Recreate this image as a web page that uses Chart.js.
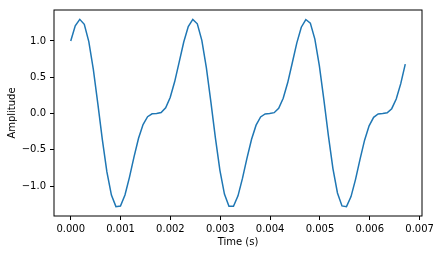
<!DOCTYPE html>
<html>
<head>
<meta charset="utf-8">
<script src="https://cdn.jsdelivr.net/npm/chart.js@4/dist/chart.umd.min.js"></script>
<style>
    html, body { margin: 0; padding: 0; background: #fff; }
    #waveChart { display: block; }
</style>
</head>
<body>
<canvas id="waveChart" width="442" height="255"></canvas>
<script>
// Samples (11025 Hz sample rate, 75 samples)
const sampleRate = 11025;
const amplitude = [
    1.000, 1.209, 1.298, 1.229, 0.991, 0.608, 0.132, -0.364, -0.804, -1.124,
    -1.283, -1.274, -1.122, -0.876, -0.596, -0.341, -0.151, -0.043, -0.004, 0.000,
    0.014, 0.079, 0.221, 0.441, 0.712, 0.986, 1.200, 1.297, 1.237, 1.009,
    0.633, 0.161, -0.336, -0.782, -1.110, -1.278, -1.279, -1.134, -0.891, -0.612,
    -0.354, -0.160, -0.047, -0.005, 0.000, 0.012, 0.073, 0.210, 0.427, 0.696,
    0.971, 1.190, 1.296, 1.246, 1.026, 0.657, 0.189, -0.309, -0.759, -1.095,
    -1.273, -1.283, -1.145, -0.907, -0.628, -0.367, -0.169, -0.052, -0.006, 0.000,
    0.010, 0.067, 0.201, 0.412, 0.680
];
const xTicks = [0, 0.001, 0.002, 0.003, 0.004, 0.005, 0.006, 0.007];
const yTicks = [-1.0, -0.5, 0.0, 0.5, 1.0];

const points = amplitude.map((v, i) => ({ x: i / sampleRate, y: v }));

// matplotlib-style 5% margins
const xMin = 0, xMax = (amplitude.length - 1) / sampleRate;
const yMin = Math.min(...amplitude), yMax = Math.max(...amplitude);
const xPad = (xMax - xMin) * 0.05, yPad = (yMax - yMin) * 0.05;

const fontSpec = { family: "'DejaVu Sans', sans-serif", size: 10 };
const minus = s => s.replace('-', '\u2212');

// full box around the plot area
const frame = {
    id: 'frame',
    afterDraw(chart) {
        const { ctx, chartArea: a } = chart;
        ctx.save();
        ctx.strokeStyle = '#000';
        ctx.lineWidth = 1;
        ctx.strokeRect(a.left, a.top, a.right - a.left, a.bottom - a.top);
        ctx.restore();
    }
};

new Chart(document.getElementById('waveChart'), {
    type: 'line',
    data: {
        datasets: [{
            data: points,
            borderColor: '#1f77b4',
            borderWidth: 1.5,
            pointRadius: 0,
            tension: 0,
            fill: false
        }]
    },
    options: {
        responsive: false,
        animation: false,
        layout: { padding: { left: 0, right: 20, top: 8, bottom: 0 } },
        plugins: {
            legend: { display: false },
            tooltip: { enabled: false }
        },
        scales: {
            x: {
                type: 'linear',
                min: xMin - xPad,
                max: xMax + xPad,
                afterBuildTicks: s => { s.ticks = xTicks.map(v => ({ value: v })); },
                afterFit: s => { s.height = 39; },
                grid: { drawOnChartArea: false, drawTicks: true, tickLength: 4, tickColor: '#000' },
                border: { display: false },
                ticks: {
                    color: '#000',
                    font: fontSpec,
                    padding: 3,
                    maxRotation: 0,
                    autoSkip: false,
                    callback: v => minus(v.toFixed(3))
                },
                title: {
                    display: true,
                    text: 'Time (s)',
                    color: '#000',
                    font: fontSpec,
                    padding: { top: 0, bottom: 7 }
                }
            },
            y: {
                min: yMin - yPad,
                max: yMax + yPad,
                afterBuildTicks: s => { s.ticks = yTicks.map(v => ({ value: v })); },
                afterFit: s => { s.width = 54; },
                grid: { drawOnChartArea: false, drawTicks: true, tickLength: 4, tickColor: '#000' },
                border: { display: false },
                ticks: {
                    color: '#000',
                    font: fontSpec,
                    padding: 4,
                    autoSkip: false,
                    callback: v => minus(v.toFixed(1))
                },
                title: {
                    display: true,
                    text: 'Amplitude',
                    color: '#000',
                    font: fontSpec,
                    padding: { top: 6, bottom: 0 }
                }
            }
        }
    },
    plugins: [frame]
});
</script>
</body>
</html>
